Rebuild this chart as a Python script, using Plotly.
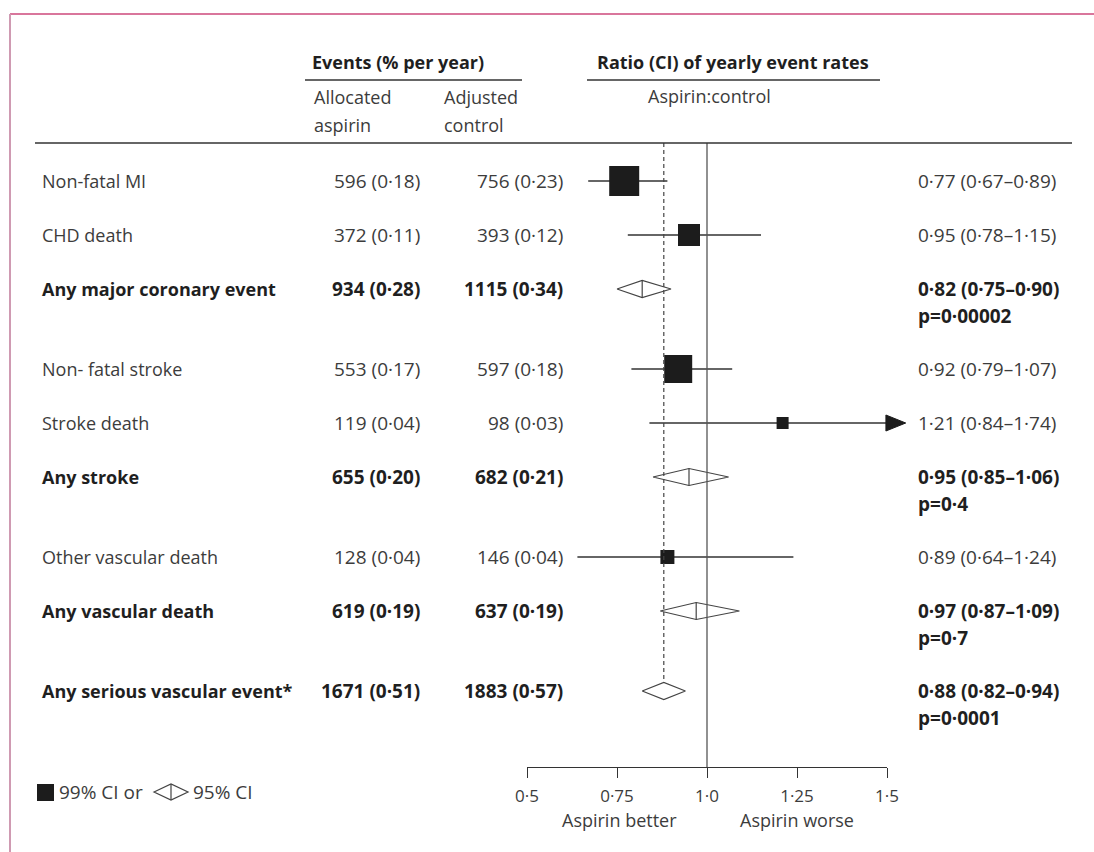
import plotly.graph_objects as go

# ---------------- data ----------------
labels = ["Non-fatal MI", "CHD death", "Any major coronary event",
          "Non- fatal stroke", "Stroke death", "Any stroke",
          "Other vascular death", "Any vascular death",
          "Any serious vascular event*"]
is_total = [False, False, True, False, False, True, False, True, True]
group = [0, 0, 0, 1, 1, 1, 2, 2, 3]
aspirin_events = [596, 372, 934, 553, 119, 655, 128, 619, 1671]
aspirin_rate = [0.18, 0.11, 0.28, 0.17, 0.04, 0.20, 0.04, 0.19, 0.51]
control_events = [756, 393, 1115, 597, 98, 682, 146, 637, 1883]
control_rate = [0.23, 0.12, 0.34, 0.18, 0.03, 0.21, 0.04, 0.19, 0.57]
ratio = [0.77, 0.95, 0.82, 0.92, 1.21, 0.95, 0.89, 0.97, 0.88]
ci_lo = [0.67, 0.78, 0.75, 0.79, 0.84, 0.85, 0.64, 0.87, 0.82]
ci_hi = [0.89, 1.15, 0.90, 1.07, 1.74, 1.06, 1.24, 1.09, 0.94]
p_values = [None, None, "0·00002", None, None, "0·4", None, "0·7", "0·0001"]
tick_vals = [0.5, 0.75, 1.0, 1.25, 1.5]
tick_text = ["0·5", "0·75", "1·0", "1·25", "1·5"]

# ---------------- style / layout ----------------
W, H = 1094, 852
FONT = "Open Sans"
TXT = "#3c3c3c"
BOLD = "#1f1f1f"
INK = "#1c1c1c"
LINE = "#333333"
LBL_SIZE = 18
NUM_SIZE = 19
box_size = [30, 22, None, 28, 12, None, 14, None, None]
X0_PX, X1_PX = 527, 887          # pixel x of first/last tick
AXIS_Y = 767
TOP_RULE_Y = 143
ROW0_Y, ROW_STEP, GROUP_GAP = 181, 54, 26
DIA_H = 8.5
ARROW_LEN = 0.055

scale = (X1_PX - X0_PX) / (tick_vals[-1] - tick_vals[0])
x_range = [tick_vals[0] - X0_PX / scale, tick_vals[0] + (W - X0_PX) / scale]
row_y = [ROW0_Y + ROW_STEP * i + GROUP_GAP * g for i, g in enumerate(group)]


def dot(v):
    return f"{v:.2f}".replace(".", "·")


def px(x):
    return x / W


fig = go.Figure()

# CI lines + squares for individual outcomes, diamonds for totals
for i in range(len(labels)):
    y = row_y[i]
    if not is_total[i]:
        hi = min(ci_hi[i], tick_vals[-1])
        fig.add_trace(go.Scatter(x=[ci_lo[i], hi], y=[y, y], mode="lines",
                                 line=dict(color=LINE, width=1.3),
                                 hoverinfo="skip", showlegend=False))
        if ci_hi[i] > tick_vals[-1]:
            a0 = tick_vals[-1] - 0.003
            fig.add_trace(go.Scatter(x=[a0, a0 + ARROW_LEN, a0, a0],
                                     y=[y - 8, y, y + 8, y - 8],
                                     mode="lines", fill="toself",
                                     fillcolor=INK, line=dict(color=INK, width=1),
                                     hoverinfo="skip", showlegend=False))
        fig.add_trace(go.Scatter(x=[ratio[i]], y=[y], mode="markers",
                                 marker=dict(symbol="square", size=box_size[i],
                                             color=INK, line=dict(width=0)),
                                 hoverinfo="skip", showlegend=False))
    else:
        fig.add_trace(go.Scatter(
            x=[ci_lo[i], ratio[i], ci_hi[i], ratio[i], ci_lo[i]],
            y=[y, y - DIA_H, y, y + DIA_H, y],
            mode="lines", fill="toself", fillcolor="white",
            line=dict(color="#444444", width=1.2),
            hoverinfo="skip", showlegend=False))
        if i != len(labels) - 1:
            fig.add_trace(go.Scatter(x=[ratio[i], ratio[i]],
                                     y=[y - DIA_H, y + DIA_H], mode="lines",
                                     line=dict(color="#444444", width=1.2),
                                     hoverinfo="skip", showlegend=False))

# invisible trace to host the drawn ratio axis
fig.add_trace(go.Scatter(x=[tick_vals[0], tick_vals[-1]], y=[AXIS_Y, AXIS_Y],
                         xaxis="x2", yaxis="y", mode="markers",
                         marker=dict(opacity=0), hoverinfo="skip",
                         showlegend=False))

shapes = []
# line of no effect and overall estimate (drawn over the diamonds)
shapes.append(dict(type="line", xref="x", yref="y", x0=1.0, x1=1.0,
                   y0=TOP_RULE_Y, y1=AXIS_Y, layer="above",
                   line=dict(color="#555555", width=1.3)))
shapes.append(dict(type="line", xref="x", yref="y", x0=ratio[-1], x1=ratio[-1],
                   y0=TOP_RULE_Y, y1=row_y[-1] - DIA_H, layer="above",
                   line=dict(color="#444444", width=1.2, dash="4px,3px")))
# rules
shapes.append(dict(type="line", xref="paper", yref="y", x0=px(35), x1=px(1072),
                   y0=TOP_RULE_Y, y1=TOP_RULE_Y, line=dict(color="#333333", width=1.4)))
shapes.append(dict(type="line", xref="paper", yref="y", x0=px(305), x1=px(522),
                   y0=80, y1=80, line=dict(color="#333333", width=1.4)))
shapes.append(dict(type="line", xref="paper", yref="y", x0=px(587), x1=px(880),
                   y0=80, y1=80, line=dict(color="#333333", width=1.4)))
# frame
shapes.append(dict(type="line", xref="paper", yref="y", x0=px(10), x1=1,
                   y0=14, y1=14, line=dict(color="#d9769c", width=2)))
shapes.append(dict(type="line", xref="paper", yref="y", x0=px(10), x1=px(10),
                   y0=14, y1=H, line=dict(color="#cf9ab2", width=2)))
# legend glyphs
shapes.append(dict(type="rect", xref="paper", yref="y", x0=px(37), x1=px(54),
                   y0=784, y1=801, fillcolor=INK, line=dict(width=0)))
shapes.append(dict(type="path", xref="paper", yref="y",
                   path=f"M{px(154)},792 L{px(171)},784 L{px(188)},792 L{px(171)},800 Z",
                   fillcolor="white", line=dict(color="#444444", width=1.2)))
shapes.append(dict(type="line", xref="paper", yref="y", x0=px(171), x1=px(171),
                   y0=784, y1=800, line=dict(color="#444444", width=1.2)))

ann = []


def text(x, y, s, anchor="left", bold=False, size=LBL_SIZE, color=None):
    ann.append(dict(x=px(x), y=y, xref="paper", yref="y", text=s,
                    showarrow=False, xanchor=anchor, yanchor="middle",
                    borderpad=0,
                    font=dict(family=FONT, size=size,
                              color=color or (BOLD if bold else TXT),
                              weight="bold" if bold else "normal")))


# headers
text(311, 62, "Events (% per year)", bold=True)
text(313, 97, "Allocated")
text(313, 125, "aspirin")
text(443, 97, "Adjusted")
text(443, 125, "control")
text(733, 62, "Ratio (CI) of yearly event rates", anchor="center", bold=True)
text(709, 96, "Aspirin:control", anchor="center")

# rows
for i, lab in enumerate(labels):
    y = row_y[i]
    b = is_total[i]
    text(41, y, lab, bold=b)
    text(421, y, f"{aspirin_events[i]} ({dot(aspirin_rate[i])})",
         anchor="right", bold=b, size=NUM_SIZE)
    text(564, y, f"{control_events[i]} ({dot(control_rate[i])})",
         anchor="right", bold=b, size=NUM_SIZE)
    text(917, y, f"{dot(ratio[i])} ({dot(ci_lo[i])}–{dot(ci_hi[i])})",
         bold=b, size=NUM_SIZE)
    if p_values[i]:
        text(917, y + 27, f"p={p_values[i]}", bold=True, size=NUM_SIZE)

# axis captions and legend text
text(619, 820, "Aspirin better", anchor="center")
text(797, 820, "Aspirin worse", anchor="center")
text(58, 792, "99% CI or", size=19)
text(192, 792, "95% CI", size=19)

fig.update_layout(
    width=W, height=H, autosize=False,
    margin=dict(l=0, r=0, t=0, b=0, pad=0, autoexpand=False),
    paper_bgcolor="white", plot_bgcolor="rgba(0,0,0,0)",
    xaxis=dict(range=x_range, domain=[0, 1], visible=False, fixedrange=True),
    yaxis=dict(range=[H, 0], domain=[0, 1], visible=False, fixedrange=True),
    xaxis2=dict(range=[tick_vals[0], tick_vals[-1]],
                domain=[X0_PX / W, X1_PX / W], anchor="free",
                position=1 - AXIS_Y / H, side="bottom",
                showline=True, linecolor=LINE, linewidth=1.3,
                ticks="outside", ticklen=10, tickwidth=1.3, tickcolor=LINE,
                ticklabelstandoff=3,
                tickvals=tick_vals, ticktext=tick_text,
                tickfont=dict(family=FONT, size=17, color=TXT),
                showgrid=False, zeroline=False, fixedrange=True),
    shapes=shapes, annotations=ann, showlegend=False,
)

fig.write_html("out.html")
